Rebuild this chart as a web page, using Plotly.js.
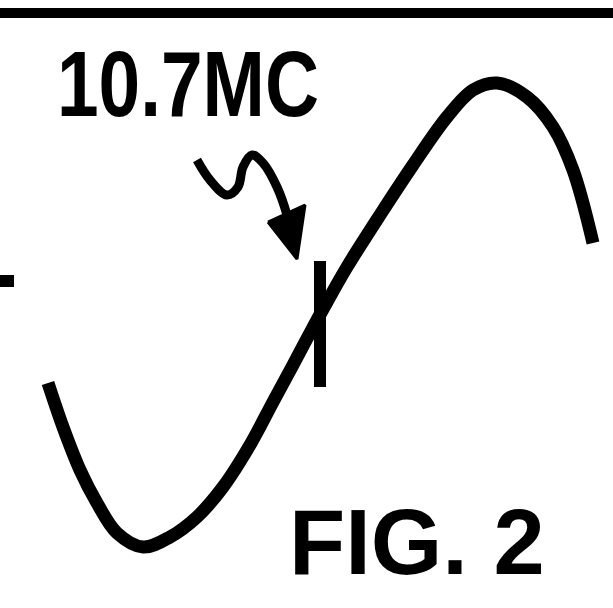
<!DOCTYPE html>
<html>
<head>
<meta charset="utf-8">
<script src="https://cdn.plot.ly/plotly-3.0.1.min.js"></script>
<style>html,body{margin:0;padding:0;background:#fff;}#chart{width:613px;height:608px;}</style>
</head>
<body>
<div id="chart"></div>
<script>
// S-shaped response curve (pixel-like units)
var curveX = [48, 63, 80, 97, 117, 143, 170, 197, 223, 250, 273, 293, 310, 327, 347, 380, 413, 447, 473, 497, 527, 553, 573, 593];
var curveY = [383, 427, 470, 503, 533, 547, 537, 517, 487, 445, 402, 365, 333, 302, 267, 215, 165, 117, 90, 83, 97, 127, 170, 243];
// squiggly arrow pointing at the centre frequency
var arrowX = [197, 210, 227, 238, 243, 252, 263, 277, 287, 295];
var arrowY = [160, 180, 195, 187, 167, 155, 163, 187, 215, 250];
var headX = [268, 305, 297, 268];
var headY = [222, 205, 259, 222];
// centre marker tick
var tickX = [320, 320];
var tickY = [261, 387];
// small dash at left edge
var dashX = [0, 14];
var dashY = [281, 281];
// top border rule
var ruleX = [0, 613];
var ruleY = [13, 13];
// labels
var labelText = ["10.7MC", "FIG. 2"];
var labelX = [55, 287];
var labelY = [84, 542];

var black = "#000";
var traces = [
  {x: ruleX, y: ruleY, mode: "lines", line: {color: black, width: 10}, hoverinfo: "skip"},
  {x: dashX, y: dashY, mode: "lines", line: {color: black, width: 12}, hoverinfo: "skip"},
  {x: curveX, y: curveY, mode: "lines", line: {color: black, width: 13, shape: "spline", smoothing: 1}, hoverinfo: "skip"},
  {x: tickX, y: tickY, mode: "lines", line: {color: black, width: 12}, hoverinfo: "skip"},
  {x: arrowX, y: arrowY, mode: "lines", line: {color: black, width: 9, shape: "spline", smoothing: 1}, hoverinfo: "skip"},
  {x: headX, y: headY, mode: "lines", fill: "toself", fillcolor: black, line: {color: black, width: 3}, hoverinfo: "skip"}
];

var layout = {
  width: 613, height: 608,
  margin: {l: 0, r: 0, t: 0, b: 0},
  paper_bgcolor: "#fff", plot_bgcolor: "#fff",
  showlegend: false,
  xaxis: {range: [0, 613], visible: false, fixedrange: true},
  yaxis: {range: [608, 0], visible: false, fixedrange: true},
  annotations: [
    {x: labelX[0], y: labelY[0], xref: "x", yref: "y", xanchor: "left", yanchor: "middle", showarrow: false,
     text: labelText[0], font: {family: "Liberation Sans", size: 93, color: black, weight: "bold"}},
    {x: labelX[1], y: labelY[1], xref: "x", yref: "y", xanchor: "left", yanchor: "middle", showarrow: false,
     text: labelText[1], font: {family: "Liberation Sans", size: 92, color: black, weight: "bold"}}
  ]
};

Plotly.newPlot("chart", traces, layout, {staticPlot: true, displayModeBar: false}).then(function () {
  // condense the "10.7MC" label horizontally to match the tight lettering of the original
  var texts = document.querySelectorAll("#chart .annotation-text");
  if (texts.length) {
    var t = texts[0];
    var bb = t.getBBox();
    var target = 262;
    var s = target / bb.width;
    var x0 = bb.x;
    var prev = t.getAttribute("transform") || "";
    t.setAttribute("transform", prev + " translate(" + x0 + ",0) scale(" + s + ",1) translate(" + (-x0) + ",0)");
  }
});
</script>
</body>
</html>
